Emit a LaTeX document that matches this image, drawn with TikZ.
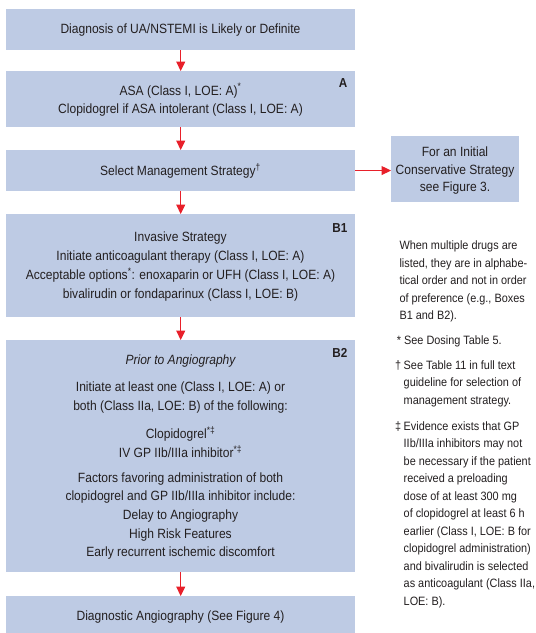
\documentclass[tikz,border=0pt]{standalone}
\usepackage{fontspec}
\setmainfont{Liberation Sans}[FakeStretch=0.9]
\usetikzlibrary{arrows.meta}
\definecolor{boxblue}{RGB}{190,203,228}
\definecolor{arrred}{RGB}{232,32,42}
\definecolor{inkc}{RGB}{35,31,32}
\begin{document}
\begin{tikzpicture}[x=1pt,y=-1pt,
  flowbox/.style={fill=boxblue,draw=none,inner sep=0pt,anchor=north west},
  maintext/.style={align=center,inner sep=0pt,text=inkc,font=\fontsize{13.4}{18.7}\selectfont},
  boxlabel/.style={inner sep=0pt,anchor=east,text=inkc,font=\fontsize{13}{15}\selectfont\bfseries},
  notetext/.style={align=left,inner sep=0pt,anchor=north west,text=inkc,font=\fontsize{12.1}{17.5}\selectfont},
  arr/.style={draw=arrred,line width=1.2pt,-{Triangle[length=9.5pt,width=9pt]}}]
\useasboundingbox[fill=white] (0,0) rectangle (536,633);
% boxes
\node[flowbox,minimum width=349pt,minimum height=41pt] (dx) at (6,9) {};
\node[flowbox,minimum width=349pt,minimum height=55.7pt] (boxa) at (6,71) {};
\node[flowbox,minimum width=349pt,minimum height=40.7pt] (strat) at (6,150) {};
\node[flowbox,minimum width=128pt,minimum height=66pt] (side) at (391,136) {};
\node[flowbox,minimum width=349pt,minimum height=102.7pt] (b1) at (6,214) {};
\node[flowbox,minimum width=349pt,minimum height=232pt] (b2) at (6,340) {};
\node[flowbox,minimum width=349pt,minimum height=37pt] (diag) at (6,596) {};
% texts
\node[maintext] (t0) at (180.5,30) {Diagnosis of UA/NSTEMI is Likely or Definite};
\node[maintext] (ta) at (180.5,100) {ASA (Class I, LOE: A)\textsuperscript{*}\\Clopidogrel if ASA intolerant (Class I, LOE: A)};
\node[boxlabel] (la) at (347.5,82.7) {A};
\node[maintext] (ts) at (180.5,171) {Select Management Strategy\textsuperscript{†}};
\node[maintext,font=\fontsize{13.4}{17.5}\selectfont] (tside) at (455,170.9) {For an Initial\\Conservative Strategy\\see Figure 3.};
\node[maintext] (tb1) at (180.5,266.5) {Invasive Strategy\\Initiate anticoagulant therapy (Class I, LOE: A)\\Acceptable options\textsuperscript{*}: enoxaparin or UFH (Class I, LOE: A)\\bivalirudin or fondaparinux (Class I, LOE: B)};
\node[boxlabel] (lb1) at (347.5,227.7) {B1};
\node[maintext,font=\fontsize{13.4}{18.7}\selectfont\itshape] (tprior) at (180.5,360.7) {Prior to Angiography};
\node[maintext] (tinit) at (180.5,397.2) {Initiate at least one (Class I, LOE: A) or\\both (Class IIa, LOE: B) of the following:};
\node[maintext] (tclop) at (180.5,442.2) {Clopidogrel\textsuperscript{*‡}\\IV GP IIb/IIIa inhibitor\textsuperscript{*‡}};
\node[maintext] (tfac) at (180.5,516) {Factors favoring administration of both\\clopidogrel and GP IIb/IIIa inhibitor include:\\Delay to Angiography\\High Risk Features\\Early recurrent ischemic discomfort};
\node[boxlabel] (lb2) at (347.5,353.3) {B2};
\node[maintext] (tdiag) at (180.5,617) {Diagnostic Angiography (See Figure 4)};
% notes
\node[notetext] (n1) at (399.3,240.6) {When multiple drugs are\\listed, they are in alphabe-\\tical order and not in order\\of preference (e.g., Boxes\\B1 and B2).};
\node[notetext] (n2) at (396.7,335.4) {* See Dosing Table 5.};
\node[notetext] (n3) at (403.5,360.4) {\llap{†\hspace{2.5pt}}See Table 11 in full text\\guideline for selection of\\management strategy.};
\node[notetext] (n4) at (403.5,421.4) {\llap{‡\hspace{2.5pt}}Evidence exists that GP\\IIb/IIIa inhibitors may not\\be necessary if the patient\\received a preloading\\dose of at least 300 mg\\of clopidogrel at least 6 h\\earlier (Class I, LOE: B for\\clopidogrel administration)\\and bivalirudin is selected\\as anticoagulant (Class IIa,\\LOE: B).};
% arrows
\draw[arr] (dx.south) -- (boxa.north);
\draw[arr] (boxa.south) -- (strat.north);
\draw[arr] (strat.south) -- (b1.north);
\draw[arr] (b1.south) -- (b2.north);
\draw[arr] (b2.south) -- (diag.north);
\draw[arr] (strat.east) -- (strat.east -| side.west);
\end{tikzpicture}
\end{document}
